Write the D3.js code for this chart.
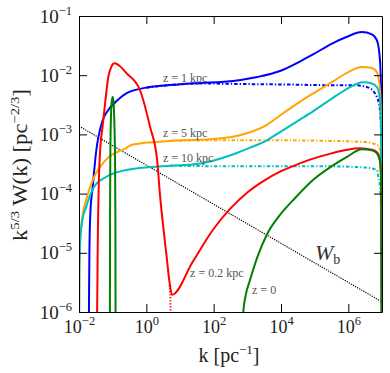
<!DOCTYPE html>
<html>
<head>
<meta charset="utf-8">
<script src="https://cdn.jsdelivr.net/npm/d3@7"></script>
<style>
body{margin:0;background:#fff;}
text{font-family:"Liberation Serif","DejaVu Serif",serif;}
</style>
</head>
<body>
<script>
// every point is [log10 k, log10 k^(5/3) W(k)]
var blueSolid = [[-1.71,-6.5],[-1.70,-5.6],[-1.69,-4.95],[-1.66,-4.3],[-1.593,-3.89],[-1.495,-3.31],[-1.296,-2.76],[-1.17,-2.62],[-0.85,-2.42],[-0.57,-2.30],[0,-2.21],[0.7,-2.166],[1.59,-2.13],[2.3,-2.11],[2.8,-2.08],[3.3,-2.03],[3.97,-1.93],[4.56,-1.77],[4.95,-1.65],[5.5,-1.47],[5.96,-1.35],[6.4,-1.27],[6.7,-1.31],[6.85,-1.41],[6.94,-1.74],[6.98,-2.5],[7.0,-7]];
var blueDash = [[0,-2.21],[1.59,-2.14],[3,-2.15],[4.5,-2.16],[5.5,-2.17],[6.2,-2.17],[6.6,-2.21],[6.85,-2.37],[6.94,-2.59],[6.98,-3.2],[7.0,-7]];
var orangeSolid = [[-2.0,-6.5],[-1.99,-5.3],[-1.97,-4.83],[-1.90,-4.4],[-1.79,-4.11],[-1.555,-3.72],[-1.20,-3.43],[-0.60,-3.23],[-0.40,-3.17],[0.7,-3.11],[1.9,-3.08],[2.57,-3.04],[3.1,-2.96],[3.58,-2.84],[3.97,-2.68],[4.56,-2.45],[4.95,-2.31],[5.5,-2.12],[5.96,-1.96],[6.4,-1.86],[6.7,-1.88],[6.85,-1.95],[6.94,-2.25],[6.98,-3.0],[7.0,-7]];
var orangeDash = [[0.7,-3.11],[2,-3.10],[4,-3.10],[5.5,-3.11],[6.5,-3.13],[6.85,-3.18],[6.94,-3.25],[6.98,-3.7],[7.0,-7]];
var cyanSolid = [[-2.0,-6.5],[-1.99,-5.3],[-1.96,-4.75],[-1.90,-4.45],[-1.79,-4.23],[-1.555,-3.89],[-1.20,-3.72],[-0.60,-3.60],[0.7,-3.53],[1.5,-3.50],[2.0,-3.44],[2.57,-3.34],[3.1,-3.22],[3.58,-3.10],[3.97,-2.96],[4.56,-2.75],[4.95,-2.61],[5.5,-2.40],[5.96,-2.23],[6.43,-2.12],[6.7,-2.14],[6.85,-2.20],[6.94,-2.42],[6.98,-3.2],[7.0,-7]];
var cyanDash = [[0.7,-3.53],[3,-3.54],[5.5,-3.54],[6.5,-3.56],[6.85,-3.60],[6.89,-3.72],[6.94,-3.89],[6.98,-4.5],[7.0,-7]];
var redSolid = [[-1.47,-6.5],[-1.455,-5.6],[-1.445,-4.95],[-1.415,-3.89],[-1.376,-3.31],[-1.30,-2.87],[-1.22,-2.45],[-1.13,-2.03],[-1.04,-1.86],[-0.946,-1.80],[-0.80,-1.84],[-0.583,-1.97],[-0.19,-2.25],[0.11,-2.87],[0.32,-3.43],[0.41,-4.05],[0.50,-4.55],[0.60,-5.05],[0.69,-5.50],[0.762,-5.71],[1.37,-5.16],[1.98,-4.61],[2.5,-4.25],[3.0,-3.98],[3.5,-3.78],[3.97,-3.63],[4.56,-3.49],[4.95,-3.41],[5.5,-3.32],[5.96,-3.26],[6.34,-3.235],[6.7,-3.26],[6.85,-3.30],[6.94,-3.43],[6.98,-3.9],[7.0,-7]];
var redDot = [[0.69,-5.55],[0.715,-5.8],[0.725,-6.5]];
var greenSpike = [[-1.082,-6.5],[-1.078,-4.5],[-1.07,-3.4],[-1.055,-2.8],[-1.03,-2.45],[-1.0,-2.37],[-0.975,-2.45],[-0.95,-2.8],[-0.93,-3.4],[-0.918,-4.5],[-0.914,-6.5]];
var greenTail = [[2.86,-6.5],[2.88,-6.0],[2.95,-5.72],[3.08,-5.46],[3.3,-5.07],[3.6,-4.67],[3.97,-4.36],[4.36,-4.11],[4.95,-3.77],[5.5,-3.54],[5.96,-3.38],[6.4,-3.25],[6.7,-3.27],[6.85,-3.32],[6.94,-3.45],[6.98,-3.9],[7.0,-7]];
var wb = [[-2,-2.86],[7,-5.83]];

var xTicks = [-2,0,2,4,6];
var yTicks = [-6,-5,-4,-3,-2,-1];

// annotations, anchored in the same log coordinates
var notes = [
  {t:"z = 1 kpc", at:[0.495,-2.115]},
  {t:"z = 5 kpc", at:[0.495,-3.04]},
  {t:"z = 10 kpc", at:[0.495,-3.47]},
  {t:"z = 0.2 kpc", at:[1.30,-5.41]},
  {t:"z = 0", at:[3.14,-5.70]}
];
var wbNote = [5.01,-5.12];

var margin = {top: 16, right: 8, bottom: 61, left: 79},
    width = 390 - margin.left - margin.right,
    height = 373 - margin.top - margin.bottom;

var x = d3.scaleLog().domain([1e-2, 1e7]).range([0, width]);
var y = d3.scaleLog().domain([1e-6, 1e-1]).range([height, 0]);

var svg = d3.select("body").append("svg")
    .attr("width", 390)
    .attr("height", 373)
  .append("g")
    .attr("transform", "translate(" + margin.left + "," + margin.top + ")");

svg.append("clipPath").attr("id", "clip")
  .append("rect").attr("width", width).attr("height", height);

var line = d3.line()
    .x(function(d) { return x(Math.pow(10, d[0])); })
    .y(function(d) { return y(Math.pow(10, d[1])); })
    .curve(d3.curveMonotoneX);

var series = [
  {d: wb, c: "#000", w: 1.2, dash: "1.2,1.2"},
  {d: blueDash, c: "#0000ff", w: 2, dash: "3.5,2,1.3,2"},
  {d: orangeDash, c: "#ffa500", w: 2, dash: "3.5,2,1.3,2"},
  {d: cyanDash, c: "#00bfbf", w: 2, dash: "3.5,2,1.3,2"},
  {d: blueSolid, c: "#0000ff", w: 2},
  {d: orangeSolid, c: "#ffa500", w: 2},
  {d: cyanSolid, c: "#00bfbf", w: 2},
  {d: redDot, c: "#ff0000", w: 2, dash: "1.2,1.8"},
  {d: redSolid, c: "#ff0000", w: 2},
  {d: greenSpike, c: "#008000", w: 2},
  {d: greenTail, c: "#008000", w: 2}
];

var plot = svg.append("g").attr("clip-path", "url(#clip)");
plot.selectAll(".curve")
    .data(series)
  .enter().append("path")
    .attr("class", "curve")
    .attr("d", function(s) { return line(s.d); })
    .attr("fill", "none")
    .attr("stroke", function(s) { return s.c; })
    .attr("stroke-width", function(s) { return s.w; })
    .attr("stroke-dasharray", function(s) { return s.dash || null; })
    .attr("stroke-linejoin", "round");

// axes, ticks pointing inwards on all four sides
function styleAxis(g) {
  g.select(".domain").attr("stroke", "#000").attr("stroke-width", 1);
  g.selectAll(".tick line").attr("stroke", "#000").attr("stroke-width", 1);
}
var xv = xTicks.map(function(e) { return Math.pow(10, e); });
var yv = yTicks.map(function(e) { return Math.pow(10, e); });

var gx = svg.append("g")
    .attr("transform", "translate(0," + height + ")")
    .call(d3.axisBottom(x).tickValues(xv).tickSizeInner(-8).tickSizeOuter(0).tickFormat(""))
    .call(styleAxis);
svg.append("g")
    .call(d3.axisTop(x).tickValues(xv).tickSizeInner(-8).tickSizeOuter(0).tickFormat(""))
    .call(styleAxis);
var gy = svg.append("g")
    .call(d3.axisLeft(y).tickValues(yv).tickSizeInner(-8).tickSizeOuter(0).tickFormat(""))
    .call(styleAxis);
svg.append("g")
    .attr("transform", "translate(" + width + ",0)")
    .call(d3.axisRight(y).tickValues(yv).tickSizeInner(-8).tickSizeOuter(0).tickFormat(""))
    .call(styleAxis);

function power(t, e) {
  t.append("tspan").text("10");
  t.append("tspan").attr("dy", -8).attr("font-size", "12.5px")
    .text(String(e).replace("-", "\u2212"));
}

gx.selectAll(".tick").each(function(d) {
  var t = d3.select(this).append("text")
      .attr("y", 21).attr("fill", "#222")
      .attr("font-size", "18px").attr("text-anchor", "middle");
  power(t, Math.round(Math.log10(d)));
});
gy.selectAll(".tick").each(function(d) {
  var t = d3.select(this).append("text")
      .attr("x", -7).attr("y", 6).attr("fill", "#222")
      .attr("font-size", "19px").attr("text-anchor", "end");
  power(t, Math.round(Math.log10(d)));
});

// axis titles
var xl = svg.append("text")
    .attr("x", 150).attr("y", height + 50)
    .attr("font-size", "20px").attr("fill", "#222")
    .style("text-anchor", "middle");
xl.append("tspan").text("k [pc");
xl.append("tspan").attr("dy", -8).attr("font-size", "13px").text("\u22121");
xl.append("tspan").attr("dy", 8).text("]");

var yl = svg.append("text")
    .attr("transform", "translate(" + (27 - margin.left) + "," + (height / 2 + 1) + ") rotate(-90)")
    .attr("font-size", "20px").attr("fill", "#222")
    .style("text-anchor", "middle");
yl.append("tspan").text("k");
yl.append("tspan").attr("dy", -8).attr("font-size", "13px").text("5/3");
yl.append("tspan").attr("dy", 8).text(" W(k) [pc");
yl.append("tspan").attr("dy", -8).attr("font-size", "13px").text("\u22122/3");
yl.append("tspan").attr("dy", 8).text("]");
// the original title runs about 152px along the axis
var ylen = yl.node().getComputedTextLength();
if (ylen > 0) yl.attr("textLength", 152).attr("lengthAdjust", "spacingAndGlyphs");

// curve annotations
svg.selectAll(".note")
    .data(notes)
  .enter().append("text")
    .attr("class", "note")
    .attr("x", function(d) { return x(Math.pow(10, d.at[0])); })
    .attr("y", function(d) { return y(Math.pow(10, d.at[1])); })
    .attr("font-size", "12px")
    .attr("fill", "#555")
    .text(function(d) { return d.t; });

var wt = svg.append("text")
    .attr("x", x(Math.pow(10, wbNote[0])))
    .attr("y", y(Math.pow(10, wbNote[1])))
    .attr("fill", "#333");
wt.append("tspan").attr("font-size", "22px").attr("font-style", "italic").text("W");
wt.append("tspan").attr("font-size", "14px").attr("dy", 4).text("b");
</script>
</body>
</html>
